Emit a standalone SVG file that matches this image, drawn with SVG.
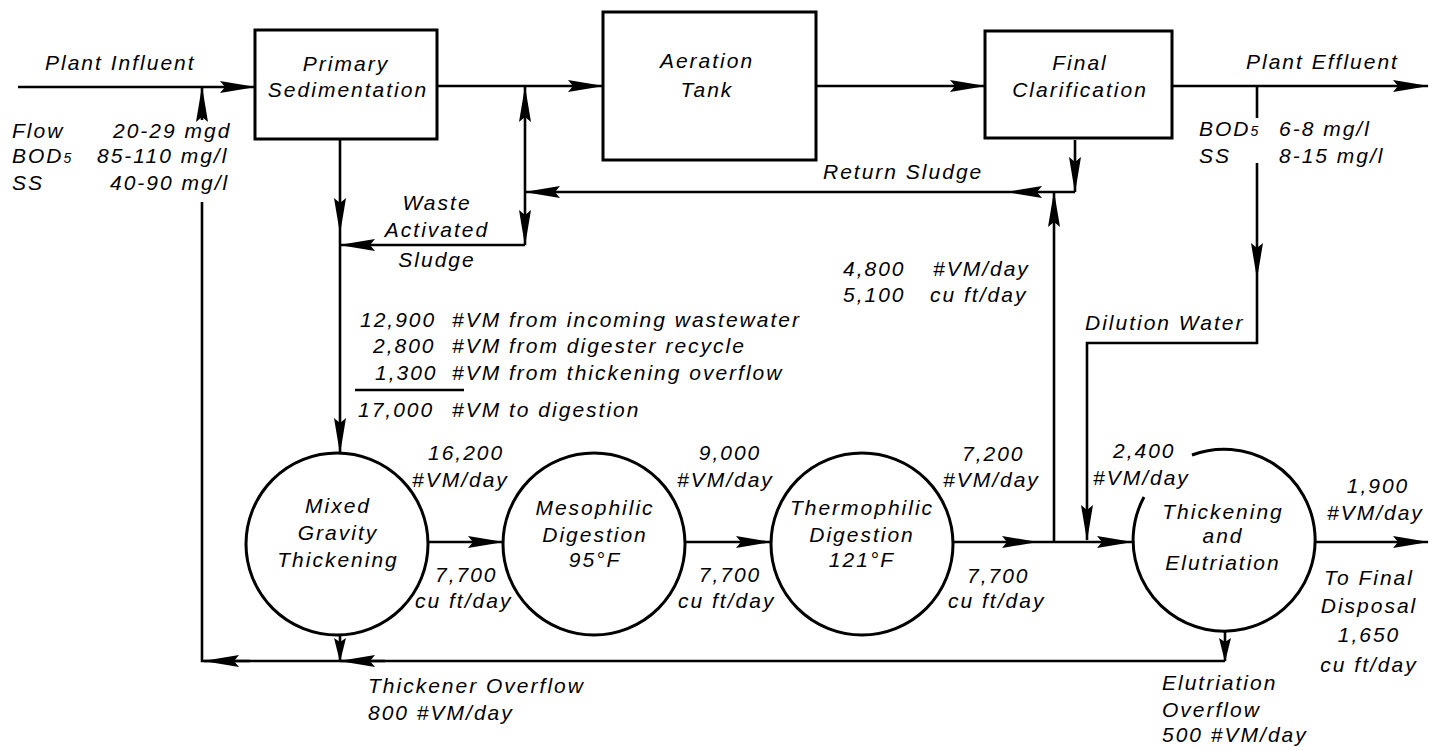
<svg xmlns="http://www.w3.org/2000/svg" width="1442" height="750" viewBox="0 0 1442 750">
<style>
text{font-family:"Liberation Sans",Arial,sans-serif;font-style:italic;font-size:21px;letter-spacing:2px;fill:#000}
.m{text-anchor:middle}
.sub{font-size:14px;letter-spacing:0}
.box{fill:#fff;stroke:#000;stroke-width:3}
.ln{fill:none;stroke:#000;stroke-width:2.6}
.a{marker-end:url(#ah)}
.s{marker-end:url(#ahs)}
</style>
<defs>
<marker id="ah" viewBox="0 0 36 12" refX="35" refY="6" markerWidth="36" markerHeight="12" markerUnits="userSpaceOnUse" orient="auto">
<path d="M0,0 L36,6 L0,12 L5,6 Z" fill="#000"/>
</marker>
<marker id="ahs" viewBox="0 0 24 12" refX="23" refY="6" markerWidth="24" markerHeight="12" markerUnits="userSpaceOnUse" orient="auto">
<path d="M0,0 L24,6 L0,12 L4,6 Z" fill="#000"/>
</marker>
</defs>
<rect width="1442" height="750" fill="#fff"/>

<g id="connectors">
<line class="ln a" x1="18" y1="87" x2="255" y2="87"/>
<line class="ln a" x1="202" y1="120" x2="202" y2="87"/>
<polyline class="ln" points="202,202 202,661 1225,661"/>
<line class="ln a" x1="385" y1="661" x2="340" y2="661"/>
<line class="ln a" x1="250" y1="661" x2="204" y2="661"/>
<line class="ln a" x1="340" y1="139" x2="340" y2="233"/>
<line class="ln a" x1="340" y1="233" x2="340" y2="453"/>
<line class="ln s" x1="340" y1="635" x2="340" y2="661"/>
<line class="ln a" x1="437" y1="86" x2="603" y2="86"/>
<line class="ln a" x1="525" y1="192" x2="525" y2="87"/>
<line class="ln a" x1="525" y1="192" x2="525" y2="245"/>
<line class="ln a" x1="525" y1="245" x2="340" y2="245"/>
<line class="ln a" x1="1075" y1="140" x2="1075" y2="192"/>
<line class="ln a" x1="1075" y1="192" x2="1007" y2="192"/>
<line class="ln a" x1="1007" y1="192" x2="525" y2="192"/>
<line class="ln a" x1="1054" y1="542" x2="1054" y2="192"/>
<line class="ln a" x1="816" y1="86" x2="985" y2="86"/>
<line class="ln a" x1="1172" y1="86" x2="1428" y2="86"/>
<line class="ln" x1="1257" y1="86" x2="1257" y2="118"/>
<line class="ln a" x1="1257" y1="163" x2="1257" y2="278"/>
<polyline class="ln a" points="1257,278 1257,343 1087,343 1087,540"/>
<line class="ln a" x1="427" y1="542" x2="503" y2="542"/>
<line class="ln a" x1="685" y1="542" x2="771" y2="542"/>
<line class="ln a" x1="953" y1="542" x2="1037" y2="542"/>
<line class="ln a" x1="1037" y1="542" x2="1132" y2="542"/>
<line class="ln a" x1="1314" y1="542" x2="1428" y2="542"/>
<line class="ln s" x1="1225" y1="632" x2="1225" y2="661"/>
<line class="ln" x1="355" y1="390" x2="464" y2="390"/>
</g>

<g id="primary">
<rect class="box" x="255" y="30" width="182" height="109"/>
<text class="m" x="346" y="71">Primary</text>
<text class="m" x="348" y="97">Sedimentation</text>
</g>
<g id="aeration">
<rect class="box" x="603" y="12" width="213" height="148"/>
<text class="m" x="707" y="68">Aeration</text>
<text class="m" x="707" y="97">Tank</text>
</g>
<g id="final">
<rect class="box" x="985" y="31" width="187" height="107"/>
<text class="m" x="1080" y="70">Final</text>
<text class="m" x="1080" y="97">Clarification</text>
</g>
<g id="mixed">
<circle class="box" cx="337" cy="544" r="91"/>
<text class="m" x="338" y="513">Mixed</text>
<text class="m" x="338" y="540">Gravity</text>
<text class="m" x="338" y="567">Thickening</text>
</g>
<g id="meso">
<circle class="box" cx="594" cy="544" r="91"/>
<text class="m" x="595" y="515">Mesophilic</text>
<text class="m" x="595" y="542">Digestion</text>
<text class="m" x="595" y="567">95°F</text>
</g>
<g id="thermo">
<circle class="box" cx="862" cy="544" r="91"/>
<text class="m" x="862" y="515">Thermophilic</text>
<text class="m" x="862" y="542">Digestion</text>
<text class="m" x="862" y="567">121°F</text>
</g>
<g id="thickening">
<path class="box" d="M1192,455 A91,91 0 1 1 1144,497" fill="none"/>
<text class="m" x="1223" y="519">Thickening</text>
<text class="m" x="1223" y="543">and</text>
<text class="m" x="1223" y="570">Elutriation</text>
</g>

<g id="labels">
<text x="45" y="70">Plant Influent</text>
<text x="12" y="138">Flow</text>
<text x="113" y="138">20-29 mgd</text>
<text x="12" y="163">BOD<tspan class="sub">5</tspan></text>
<text x="97" y="163">85-110 mg/l</text>
<text x="12" y="190">SS</text>
<text x="110" y="190">40-90 mg/l</text>
<text x="1246" y="69">Plant Effluent</text>
<text x="1199" y="136">BOD<tspan class="sub">5</tspan></text>
<text x="1279" y="136">6-8 mg/l</text>
<text x="1199" y="163">SS</text>
<text x="1279" y="163">8-15 mg/l</text>
<text class="m" x="437" y="210">Waste</text>
<text class="m" x="437" y="237">Activated</text>
<text class="m" x="437" y="267">Sludge</text>
<text x="823" y="179">Return Sludge</text>
<text x="843" y="276">4,800</text>
<text x="933" y="276">#VM/day</text>
<text x="843" y="302">5,100</text>
<text x="930" y="302">cu ft/day</text>
<text x="1085" y="330">Dilution Water</text>
<text x="360" y="327">12,900</text>
<text x="452" y="327">#VM from incoming wastewater</text>
<text x="373" y="353">2,800</text>
<text x="452" y="353">#VM from digester recycle</text>
<text x="375" y="380">1,300</text>
<text x="452" y="380">#VM from thickening overflow</text>
<text x="358" y="417">17,000</text>
<text x="452" y="417">#VM to digestion</text>
<text x="428" y="460">16,200</text>
<text x="412" y="487">#VM/day</text>
<text x="435" y="582">7,700</text>
<text x="415" y="608">cu ft/day</text>
<text class="m" x="730" y="460">9,000</text>
<text x="677" y="487">#VM/day</text>
<text class="m" x="730" y="582">7,700</text>
<text x="678" y="608">cu ft/day</text>
<text x="962" y="461">7,200</text>
<text x="943" y="487">#VM/day</text>
<text x="967" y="583">7,700</text>
<text x="948" y="608">cu ft/day</text>
<text x="1113" y="458">2,400</text>
<text x="1093" y="485">#VM/day</text>
<text class="m" x="1378" y="493">1,900</text>
<text x="1327" y="520">#VM/day</text>
<text class="m" x="1369" y="585">To Final</text>
<text class="m" x="1369" y="613">Disposal</text>
<text class="m" x="1369" y="642">1,650</text>
<text class="m" x="1369" y="672">cu ft/day</text>
<text x="1162" y="690">Elutriation</text>
<text x="1162" y="717">Overflow</text>
<text x="1162" y="742">500 #VM/day</text>
<text x="368" y="693">Thickener Overflow</text>
<text x="368" y="720">800 #VM/day</text>
</g>
</svg>
